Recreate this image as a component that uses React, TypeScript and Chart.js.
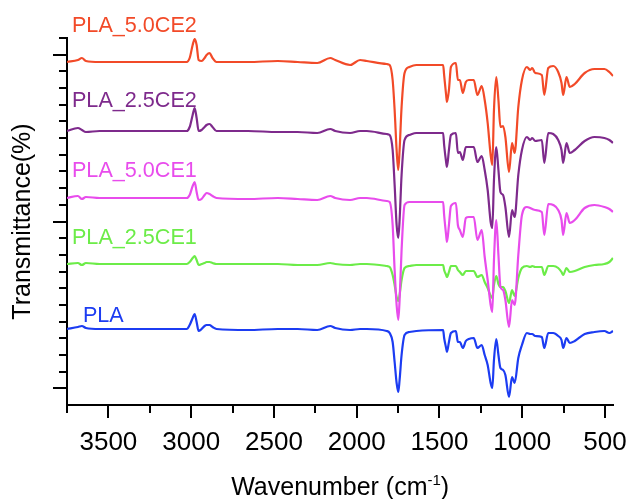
import { useEffect, useRef } from "react";
import { Chart, registerables } from "chart.js";

Chart.register(...registerables);

// Wavenumber grid (cm-1), shared by all spectra
const wavenumbers = [
  3750, 3684, 3660, 3636, 3553, 3254, 3027, 3009, 2991, 2979,
  2967, 2955, 2937, 2919, 2907, 2889, 2871, 2847, 2656, 2477,
  2357, 2238, 2160, 2130, 2040, 1980, 1939, 1819, 1801, 1783,
  1771, 1759, 1749, 1741, 1729, 1711, 1682, 1640, 1478, 1472,
  1460, 1455, 1443, 1431, 1401, 1389, 1377, 1359, 1341, 1323,
  1293, 1271, 1245, 1227, 1209, 1191, 1181, 1171, 1157, 1144,
  1132, 1116, 1102, 1080, 1062, 1046, 1024, 1002, 972, 952,
  940, 922, 882, 867, 843, 813, 783, 763, 753, 733,
  713, 683, 623, 564, 504, 474, 452,
];

// Transmittance (arbitrary units, stacked spectra)
const pla50CE2 = [
  343, 345, 347, 344, 343, 343, 343, 347, 360, 366,
  360, 345, 344, 347, 350, 352, 347, 343, 343, 344,
  343, 342, 347, 345, 340, 345, 344, 341, 340, 325,
  295, 255, 235, 255, 298, 332, 338, 340, 340, 330,
  310, 303, 315, 338, 342, 325, 325, 312, 323, 325,
  325, 310, 319, 305, 282, 250, 240, 295, 328, 305,
  278, 279, 268, 233, 262, 252, 298, 325, 338, 335,
  337, 332, 330, 310, 337, 339, 333, 322, 310, 328,
  318, 321, 332, 336, 336, 333, 329,
];
const pla25CE2 = [
  274, 277, 275, 273, 274, 274, 274, 278, 290, 297,
  287, 274, 275, 278, 280, 281, 278, 274, 274, 273,
  273, 272, 276, 274, 272, 274, 274, 271, 270, 255,
  220, 180, 167, 185, 230, 265, 270, 272, 272, 260,
  243, 238, 255, 270, 272, 252, 253, 245, 258, 258,
  258, 243, 249, 235, 215, 183, 177, 225, 258, 235,
  213, 210, 198, 168, 195, 188, 230, 255, 268, 265,
  267, 264, 265, 242, 272, 271, 265, 255, 242, 262,
  252, 255, 264, 268, 267, 265, 262,
];
const pla50CE1 = [
  207, 209, 206, 208, 207, 207, 207, 210, 219, 223,
  213, 205, 206, 210, 212, 211, 209, 207, 206, 207,
  206, 205, 209, 207, 205, 207, 207, 204, 203, 180,
  135, 100, 85, 105, 155, 200, 203, 203, 203, 190,
  170, 163, 180, 199, 202, 180, 175, 168, 187, 188,
  188, 165, 175, 148, 125, 100, 93, 145, 185, 150,
  118, 115, 105, 78, 105, 100, 150, 190, 198, 197,
  196, 195, 193, 170, 201, 200, 195, 185, 170, 192,
  182, 185, 197, 200, 198, 196, 193,
];
const pla25CE1 = [
  141, 142, 140, 142, 141, 141, 141, 143, 147, 149,
  145, 140, 141, 142, 143, 143, 142, 141, 141, 141,
  140, 140, 142, 141, 140, 141, 141, 139, 138, 130,
  120, 108, 104, 110, 125, 137, 139, 140, 140, 135,
  130, 128, 133, 139, 139, 135, 133, 130, 134, 134,
  134, 128, 130, 123, 117, 109, 107, 120, 129, 121,
  118, 118, 114, 102, 115, 109, 127, 137, 139, 138,
  139, 138, 138, 130, 139, 139, 137, 133, 130, 137,
  133, 134, 138, 140, 141, 143, 147,
];
const pla = [
  76, 78, 79, 77, 76, 76, 76, 80, 87, 91,
  83, 74, 76, 79, 80, 80, 78, 76, 75, 76,
  76, 75, 79, 77, 75, 76, 76, 74, 72, 63,
  43, 22, 13, 25, 50, 70, 73, 74, 75, 67,
  57, 53, 63, 72, 74, 63, 63, 57, 64, 66,
  67, 57, 60, 50, 40, 22, 17, 45, 66, 50,
  37, 35, 30, 8, 28, 22, 47, 60, 72, 71,
  71, 69, 68, 57, 72, 72, 69, 65, 57, 67,
  62, 64, 71, 73, 74, 72, 74,
];

const seriesNames = ["PLA_5.0CE2", "PLA_2.5CE2", "PLA_5.0CE1", "PLA_2.5CE1", "PLA"];
const seriesData = [pla50CE2, pla25CE2, pla50CE1, pla25CE1, pla];
const seriesColors = ["#f24a28", "#7e2a8c", "#e84cec", "#6cec48", "#1c3cf2"];
// label anchors in data units (wavenumber, transmittance)
const labelWave = [3720, 3720, 3720, 3720, 3654];
const labelValue = [373, 298, 228, 161, 83];

const xMajorTicks = [3500, 3000, 2500, 2000, 1500, 1000, 500];
const xMinorTicks = [3750, 3250, 2750, 2250, 1750, 1250, 750];
const yTickStep = 16.68;
const yTickCount = 22;
const yMajorIndex = [1, 11, 21];

const FONT = '"Liberation Sans", Arial, Helvetica, sans-serif';

const decorPlugin = {
  id: "decor",
  afterDraw(chart: any) {
    const { ctx, chartArea } = chart;
    const xs = chart.scales.x;
    const ys = chart.scales.y;
    ctx.save();
    ctx.strokeStyle = "#000";
    ctx.lineWidth = 2;
    ctx.beginPath();
    for (const v of xMajorTicks) {
      const px = Math.round(xs.getPixelForValue(v));
      ctx.moveTo(px, chartArea.bottom);
      ctx.lineTo(px, chartArea.bottom + 13);
    }
    for (const v of xMinorTicks) {
      const px = Math.round(xs.getPixelForValue(v));
      ctx.moveTo(px, chartArea.bottom);
      ctx.lineTo(px, chartArea.bottom + 8);
    }
    for (let k = 1; k <= yTickCount; k++) {
      const py = Math.round(ys.getPixelForValue(k * yTickStep));
      const len = yMajorIndex.includes(k) ? 14 : 8;
      ctx.moveTo(chartArea.left - len, py);
      ctx.lineTo(chartArea.left, py);
    }
    ctx.stroke();

    // series labels
    ctx.font = `21.6px ${FONT}`;
    ctx.textAlign = "left";
    ctx.textBaseline = "alphabetic";
    seriesNames.forEach((name, i) => {
      ctx.fillStyle = seriesColors[i];
      ctx.fillText(name, xs.getPixelForValue(labelWave[i]), ys.getPixelForValue(labelValue[i]));
    });

    // x axis title with superscript
    ctx.fillStyle = "#000";
    const mainA = "Wavenumber (cm";
    const sup = "-1";
    const mainB = ")";
    ctx.font = `25px ${FONT}`;
    const wA = ctx.measureText(mainA).width;
    const wB = ctx.measureText(mainB).width;
    ctx.font = `15px ${FONT}`;
    const wS = ctx.measureText(sup).width;
    const total = wA + wS + wB;
    const cx = (chartArea.left + chartArea.right) / 2;
    const baseY = 495;
    let sx = cx - total / 2;
    ctx.font = `25px ${FONT}`;
    ctx.fillText(mainA, sx, baseY);
    sx += wA;
    ctx.font = `15px ${FONT}`;
    ctx.fillText(sup, sx, baseY - 10);
    sx += wS;
    ctx.font = `25px ${FONT}`;
    ctx.fillText(mainB, sx, baseY);
    ctx.restore();
  },
};

export default function App() {
  const canvasRef = useRef<HTMLCanvasElement>(null);

  useEffect(() => {
    if (!canvasRef.current) return;
    const chart = new Chart(canvasRef.current, {
      type: "line",
      data: {
        datasets: seriesNames.map((name, i) => ({
          label: name,
          data: wavenumbers.map((w, j) => ({ x: w, y: seriesData[i][j] })),
          borderColor: seriesColors[i],
          borderWidth: 2.2,
          pointRadius: 0,
          cubicInterpolationMode: "monotone",
          fill: false,
        })),
      },
      options: {
        animation: false,
        responsive: false,
        devicePixelRatio: 1,
        layout: { padding: { top: 38, right: 17, left: 0, bottom: 0 } },
        plugins: { legend: { display: false }, tooltip: { enabled: false } },
        scales: {
          x: {
            type: "linear",
            reverse: true,
            min: 450,
            max: 3750,
            afterBuildTicks: (scale: any) => {
              scale.ticks = xMajorTicks.map((v) => ({ value: v }));
            },
            afterFit: (scale: any) => {
              scale.height = 94;
            },
            grid: {
              display: true,
              drawOnChartArea: false,
              drawTicks: true,
              tickLength: 13,
              tickColor: "rgba(0,0,0,0)",
              color: "rgba(0,0,0,0)",
            },
            border: { display: true, color: "#000", width: 2 },
            ticks: {
              color: "#000",
              font: { family: FONT, size: 26 },
              padding: 9,
              maxRotation: 0,
              autoSkip: false,
              callback: (v: any) => String(v),
            },
          },
          y: {
            type: "linear",
            min: 0,
            max: 367,
            afterBuildTicks: (scale: any) => {
              scale.ticks = [];
            },
            afterFit: (scale: any) => {
              scale.width = 67;
            },
            grid: { display: false },
            border: { display: true, color: "#000", width: 2 },
            ticks: { display: false },
            title: {
              display: true,
              text: "Transmittance(%)",
              color: "#000",
              font: { family: FONT, size: 25, weight: "normal" },
              padding: { top: 8, bottom: 0 },
            },
          },
        },
      },
      plugins: [decorPlugin],
    } as any);
    return () => chart.destroy();
  }, []);

  return (
    <div style={{ position: "absolute", left: 0, top: 0, width: 636, height: 499 }}>
      <canvas ref={canvasRef} width={636} height={499} />
    </div>
  );
}
